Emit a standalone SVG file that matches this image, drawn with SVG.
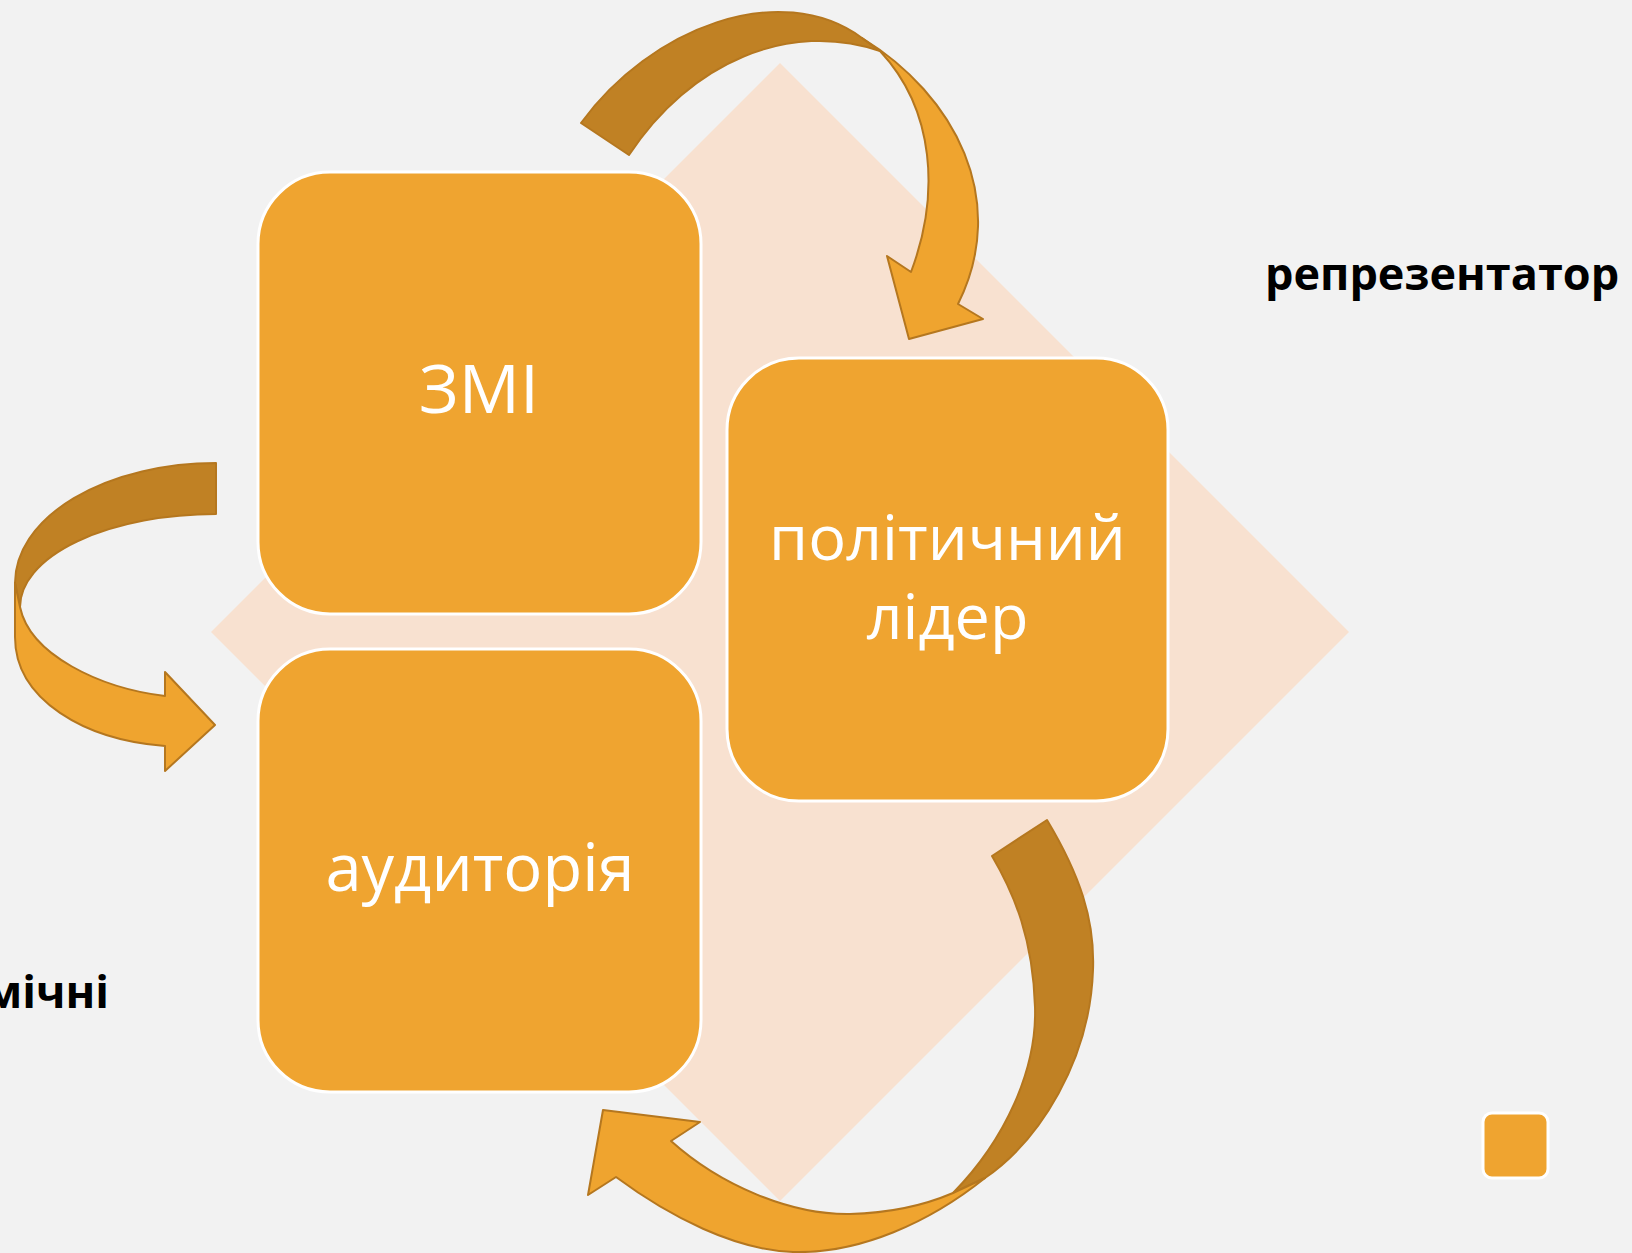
<svg xmlns="http://www.w3.org/2000/svg" width="1632" height="1253" viewBox="0 0 1632 1253">
<style>
.box{fill:#EFA430;stroke:#FFFFFF;stroke-width:3}
.lbl{font-family:"Open Sans","Noto Sans","Liberation Sans",sans-serif;fill:#FFFFFF;text-anchor:middle}
.side{font-family:"Open Sans","Noto Sans","Liberation Sans",sans-serif;font-weight:bold;font-size:45px;fill:#000000}
.lt{fill:#EFA42F;stroke:#B5771F;stroke-width:2;stroke-linejoin:round}
.dk{fill:#C08124;stroke:#B5771F;stroke-width:2;stroke-linejoin:round}
</style>
<rect width="1632" height="1253" fill="#F2F2F2"/>
<polygon points="780,63 1349,632 780,1201 211,632" fill="#F8E1D0"/>
<g id="node-zmi">
<rect class="box" x="258" y="172" width="443" height="442" rx="72"/>
<text class="lbl" x="479" y="413" font-size="68">ЗМІ</text>
</g>
<g id="node-leader">
<rect class="box" x="727" y="358" width="441" height="443" rx="72"/>
<text class="lbl" x="947.5" y="560" font-size="63">політичний</text>
<text class="lbl" x="947.5" y="639" font-size="63">лідер</text>
</g>
<g id="node-audience">
<rect class="box" x="258" y="649" width="443" height="443" rx="72"/>
<text class="lbl" x="480" y="891" font-size="65">аудиторія</text>
</g>
<g id="connectors">
<g id="arrow-top">
<path class="dk" d="M581,123 C650,28 780,-22 862,38 L880,51 C790,20 690,62 629,155 Z"/>
<path class="lt" d="M862,38 C955,95 1010,200 958,304 L983,319 L909,339 L887,256 L911,272 C940,195 935,110 880,51 Z"/>
</g>
<g id="arrow-left">
<path class="dk" d="M216,463 A201,120 0 0 0 15,583 L20,607 A196,93 0 0 1 216,514 Z"/>
<path class="lt" d="M15,583 L15,637 C15,700 85,740 165,746 L165,771 L215,725 L165,672 L165,696 C100,688 30,655 20,607 Z"/>
</g>
<g id="arrow-bottom">
<path class="dk" d="M1047,820 C1080,875 1095,920 1093,970 C1090,1060 1040,1140 985,1178 L953,1193 C1005,1140 1037,1070 1035,1007 C1033,940 1015,895 992,856 Z"/>
<path class="lt" d="M985,1178 C930,1222 860,1254 793,1252 C735,1250 670,1217 616,1177 L588,1195 L603,1110 L700,1122 L671,1141 C720,1185 790,1215 850,1214 C890,1213 925,1205 953,1193 Z"/>
</g>
</g>
<g id="label-representator">
<text class="side" x="1265" y="290">репрезентатор</text>
</g>
<g id="label-michni">
<text class="side" x="109" y="1008" text-anchor="end">мічні</text>
</g>
<g id="legend-square">
<rect class="box" x="1483" y="1113" width="65" height="65" rx="9" stroke-width="2"/>
</g>
</svg>
